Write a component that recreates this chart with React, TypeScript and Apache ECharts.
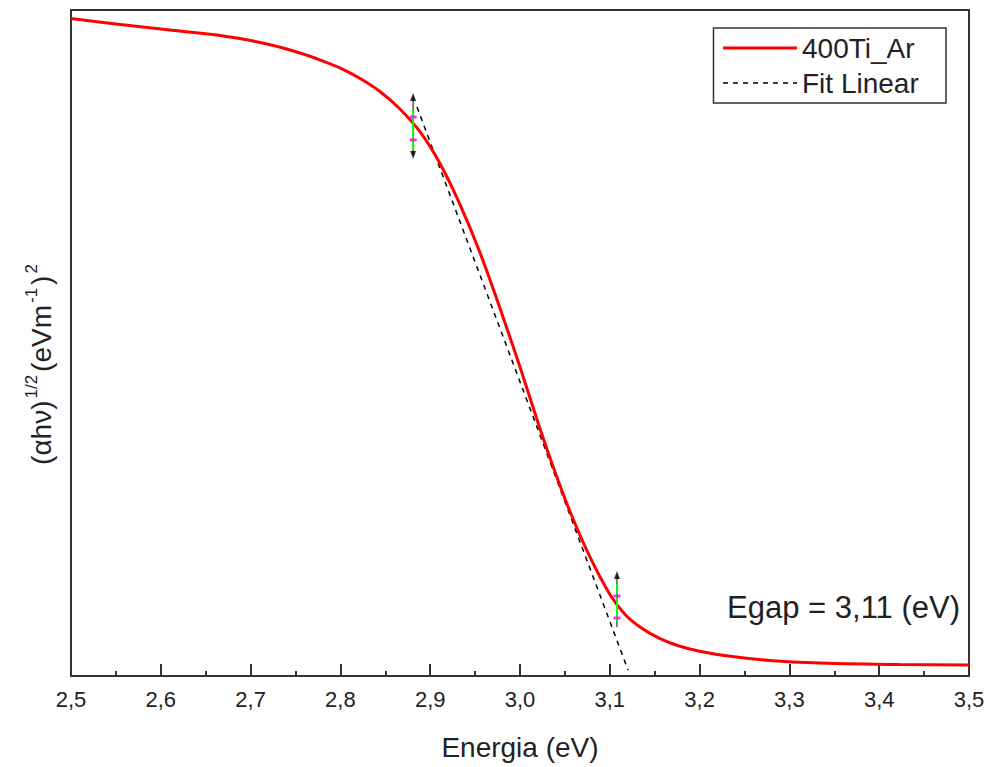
import React, { useEffect, useRef } from "react";
import * as echarts from "echarts";

const energy = [2.5, 2.555, 2.61, 2.655, 2.688, 2.722, 2.755, 2.777, 2.8, 2.822, 2.844, 2.866, 2.889, 2.911, 2.933, 2.956, 2.978, 3.0, 3.022, 3.039, 3.056, 3.078, 3.1, 3.117, 3.134, 3.156, 3.178, 3.2, 3.234, 3.278, 3.334, 3.423, 3.5];
const tauc = [6.575, 6.514, 6.461, 6.417, 6.374, 6.312, 6.23, 6.162, 6.079, 5.975, 5.845, 5.673, 5.438, 5.123, 4.718, 4.22, 3.67, 3.09, 2.48, 2.04, 1.638, 1.188, 0.818, 0.615, 0.488, 0.373, 0.298, 0.248, 0.197, 0.155, 0.13, 0.114, 0.11];

const fitX = [2.8853, 3.1203];
const fitY = [5.69, 0.06];

const markerX = [2.881, 3.108];
const markerTop = [5.79, 1.01];
const markerBottom = [5.21, 0.49];
const greenTop = [5.66, 0.92];
const greenBottom = [5.26, 0.55];
const magentaA = [5.59, 0.8];
const magentaB = [5.36, 0.58];

const xTicks = { min: 2.5, max: 3.5, interval: 0.1 };
const yRange = { min: 0, max: 6.66 };
const egapText = "Egap = 3,11 (eV)";
const seriesNames = ["400Ti_Ar", "Fit Linear"];

const FONT = "'Liberation Sans', Arial, sans-serif";

export default function App() {
  const ref = useRef<HTMLDivElement>(null);
  useEffect(() => {
    if (!ref.current) return;
    const chart = echarts.init(ref.current, undefined, { renderer: "svg" });
    const markerSeries: any[] = [];
    markerX.forEach((x, i) => {
      markerSeries.push({
        type: "line",
        name: "marker-line-" + i,
        data: [[x, markerBottom[i]], [x, markerTop[i]]],
        symbol: "none",
        lineStyle: { color: "#000", width: 1 },
        z: 5,
      });
      markerSeries.push({
        type: "line",
        name: "marker-green-" + i,
        data: [[x, greenBottom[i]], [x, greenTop[i]]],
        symbol: "none",
        lineStyle: { color: "#00ff00", width: 2 },
        z: 6,
      });
      markerSeries.push({
        type: "scatter",
        name: "marker-magenta-" + i,
        data: [[x, magentaA[i]], [x, magentaB[i]]],
        symbol: "rect",
        symbolSize: [7, 3],
        itemStyle: { color: "#ff00ff" },
        z: 7,
      });
      markerSeries.push({
        type: "scatter",
        name: "marker-arrow-top-" + i,
        data: [[x, markerTop[i]]],
        symbol: "triangle",
        symbolSize: [6, 8],
        itemStyle: { color: "#000" },
        z: 7,
      });
      if (i === 0) {
        markerSeries.push({
          type: "scatter",
          name: "marker-arrow-bot-" + i,
          data: [[x, markerBottom[i]]],
          symbol: "triangle",
          symbolRotate: 180,
          symbolSize: [6, 8],
          itemStyle: { color: "#000" },
          z: 7,
        });
      }
    });

    chart.setOption({
      animation: false,
      backgroundColor: "#fff",
      textStyle: { fontFamily: FONT },
      grid: {
        left: 71,
        right: 21,
        top: 10,
        bottom: 91,
        show: true,
        borderColor: "#333",
        borderWidth: 2,
        backgroundColor: "transparent",
      },
      legend: {
        data: [
          { name: seriesNames[0], lineStyle: { width: 3, color: "#ff0000" } },
          { name: seriesNames[1], lineStyle: { width: 1.5, color: "#000", type: [5, 5] } },
        ],
        orient: "vertical",
        right: 44,
        top: 28,
        padding: [6, 8, 6, 8],
        borderColor: "#333",
        borderWidth: 1.5,
        itemWidth: 74,
        itemHeight: 14,
        itemGap: 7,
        itemStyle: { opacity: 0 },
        textStyle: { fontSize: 28, color: "#222", fontFamily: FONT, lineHeight: 28, width: 136 },
      },
      xAxis: {
        type: "value",
        min: xTicks.min,
        max: xTicks.max,
        interval: xTicks.interval,
        name: "Energia (eV)",
        nameLocation: "middle",
        nameGap: 57,
        nameTextStyle: { fontSize: 28, color: "#222", fontFamily: FONT },
        axisLine: { show: true, lineStyle: { color: "#333", width: 2 } },
        axisTick: { show: true, inside: true, length: 12, lineStyle: { color: "#333", width: 2 } },
        minorTick: { show: true, splitNumber: 2, length: 5, lineStyle: { color: "#333", width: 2 } },
        splitLine: { show: false },
        axisLabel: {
          fontSize: 22,
          color: "#222",
          fontFamily: FONT,
          margin: 12,
          formatter: (v: number) => v.toFixed(1).replace(".", ","),
        },
      },
      yAxis: {
        type: "value",
        min: yRange.min,
        max: yRange.max,
        axisLabel: { show: false },
        axisTick: { show: false },
        axisLine: { show: false },
        splitLine: { show: false },
        name: "{a|(αhν)}{s|1/2}{a|(eVm}{s|-1}{a|)}{s|2}",
        nameLocation: "middle",
        nameGap: 12,
        nameRotate: 90,
        nameTextStyle: {
          padding: [0, 40, 0, 0],
          rich: {
            a: { fontSize: 28, color: "#222", fontFamily: FONT, lineHeight: 36 },
            s: { fontSize: 17, color: "#222", fontFamily: FONT, lineHeight: 18, verticalAlign: "top", padding: [0, 3, 0, 2] },
          },
        },
      },
      graphic: [
        {
          type: "text",
          right: 30,
          top: 592,
          style: { text: egapText, fontSize: 31, fill: "#222", fontFamily: FONT },
          z: 10,
        },
      ],
      series: [
        {
          type: "line",
          name: seriesNames[0],
          data: energy.map((x, i) => [x, tauc[i]]),
          symbol: "none",
          smooth: 0.3,
          lineStyle: { color: "#ff0000", width: 3 },
          itemStyle: { color: "#ff0000" },
          z: 4,
        },
        {
          type: "line",
          name: seriesNames[1],
          data: fitX.map((x, i) => [x, fitY[i]]),
          symbol: "none",
          lineStyle: { color: "#000", width: 1.5, type: [5, 5] },
          itemStyle: { color: "#000" },
          z: 3,
        },
        ...markerSeries,
      ],
    });
    return () => chart.dispose();
  }, []);
  return (
    <div
      ref={ref}
      style={{ position: "absolute", left: 0, top: 0, width: 990, height: 767, background: "#fff" }}
    />
  );
}
